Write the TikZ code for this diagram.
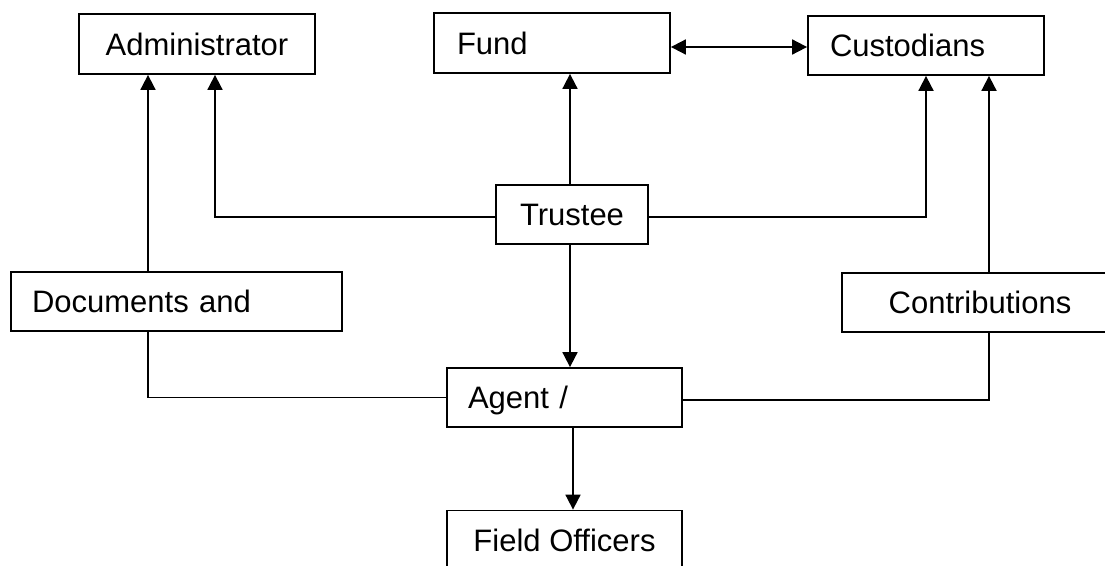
\documentclass[tikz,border=0pt]{standalone}
\usepackage{fontspec}
\setmainfont{Liberation Sans}
\usetikzlibrary{arrows.meta}
\begin{document}
\begin{tikzpicture}[x=1pt,y=-1pt,
  box/.style={draw, line width=1.8pt, inner ysep=0pt, inner xsep=0pt,
    text height=22.4pt, text depth=0pt, font=\fontsize{31}{36}\selectfont},
  conn/.style={line width=1.8pt},
  arr/.style={conn, -{Triangle[length=15pt,width=15pt]}},
  darr/.style={conn, {Triangle[length=15pt,width=15pt]}-{Triangle[length=15pt,width=15pt]}}]
\clip (0,0) rectangle (1105,565);
\fill[white] (0,0) rectangle (1105,565);
\node[box, minimum width=236pt, minimum height=60pt] (adm) at (197,44) {Administrator};
\node[box, minimum height=60pt, text width=190pt, inner xsep=23pt, align=left] (fund) at (552,43) {Fund};
\node[box, minimum height=59pt, text width=192pt, inner xsep=22pt, align=left] (cust) at (926,45.5) {Custodians};
\node[box, minimum width=152pt, minimum height=59pt] (trustee) at (572,214.5) {Trustee};
\node[box, minimum height=59pt, text width=289pt, inner xsep=21pt, align=left] (docs) at (176.5,301.5) {Documents and};
\node[box, minimum width=276pt, minimum height=59pt] (contrib) at (980,302.5) {Contributions};
\node[box, minimum height=59pt, text width=193pt, inner xsep=21pt, align=left] (agent) at (564.5,397.5) {Agent /};
\node[box, minimum width=235pt, minimum height=59pt] (field) at (564.5,540) {Field Officers};
\coordinate (c148) at (148,0);
\coordinate (c215) at (215,0);
\coordinate (c989) at (989,0);
\coordinate (c570) at (570,0);
\coordinate (c573) at (573,0);
% connectors
\draw[arr] (trustee.north -| c570) -- (fund.south -| c570);
\draw[arr] ([yshift=-2.5pt]trustee.west) -| (adm.south -| c215);
\draw[arr] ([yshift=-2.5pt]trustee.east) -| (cust.south);
\draw[darr] ([yshift=-4pt]fund.east) -- ([yshift=-4pt]fund.east -| cust.west);
\draw[arr] (docs.north -| c148) -- (adm.south -| c148);
\draw[conn] (docs.south -| c148) |- (agent.west);
\draw[arr] (contrib.north -| c989) -- (cust.south -| c989);
\draw[conn] (contrib.south -| c989) |- ([yshift=-2.5pt]agent.east);
\draw[arr] (trustee.south -| c570) -- (agent.north -| c570);
\draw[arr] (agent.south -| c573) -- (field.north -| c573);
\end{tikzpicture}
\end{document}
